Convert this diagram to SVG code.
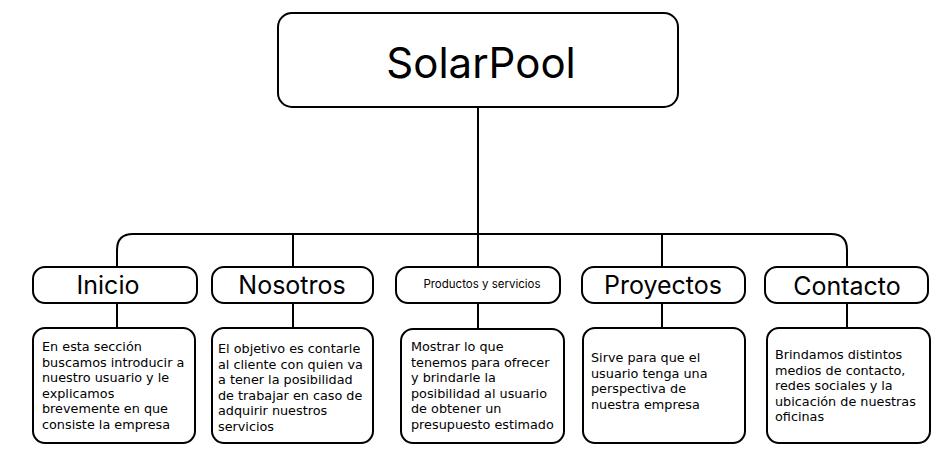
<svg xmlns="http://www.w3.org/2000/svg" width="952" height="463" viewBox="0 0 952 463">
<style>
.box{fill:#fff;stroke:#000;stroke-width:2}
.ln{fill:none;stroke:#000;stroke-width:2}
text{font-family:"Inter","Liberation Sans",sans-serif;fill:#000}
.t{font-size:25px;text-anchor:middle}
.d{font-family:"DejaVu Sans","Liberation Sans",sans-serif;font-size:12.8px}
</style>
<rect width="952" height="463" fill="#fff"/>
<g id="connectors">
<path class="ln" d="M478 107V234"/>
<path class="ln" d="M117 267V250Q117 234 133 234H831Q847 234 847 250V267"/>
<path class="ln" d="M293 234V267M478 234V267M662 234V267"/>
<path class="ln" d="M117 303V328M293 303V328M478 303V329M662 303V328M847 303V328"/>
</g>
<g id="solarpool">
<rect class="box" x="278" y="13" width="400" height="94" rx="14"/>
<text x="481" y="78" font-size="42" text-anchor="middle">SolarPool</text>
</g>
<g id="inicio">
<rect class="box" x="33" y="267" width="164" height="36" rx="12"/>
<text class="t" x="108" y="294">Inicio</text>
</g>
<g id="nosotros">
<rect class="box" x="212" y="267" width="161" height="36" rx="12"/>
<text class="t" x="292" y="294">Nosotros</text>
</g>
<g id="productos">
<rect class="box" x="396" y="267" width="164" height="36" rx="12"/>
<text x="482" y="288" font-size="11.5" text-anchor="middle">Productos y servicios</text>
</g>
<g id="proyectos">
<rect class="box" x="582" y="267" width="163" height="36" rx="12"/>
<text class="t" x="663" y="294">Proyectos</text>
</g>
<g id="contacto">
<rect class="box" x="765" y="267" width="163" height="36" rx="12"/>
<text class="t" x="847" y="295">Contacto</text>
</g>
<g id="inicio-desc">
<rect class="box" x="33" y="328" width="162" height="115" rx="12"/>
<text class="d" x="42" y="351"><tspan x="42">En esta sección</tspan><tspan x="42" dy="15.5">buscamos introducir a</tspan><tspan x="42" dy="15.5">nuestro usuario y le</tspan><tspan x="42" dy="15.5">explicamos</tspan><tspan x="42" dy="15.5">brevemente en que</tspan><tspan x="42" dy="15.5">consiste la empresa</tspan></text>
</g>
<g id="nosotros-desc">
<rect class="box" x="212" y="328" width="161" height="115" rx="12"/>
<text class="d" x="218" y="353"><tspan x="218">El objetivo es contarle</tspan><tspan x="218" dy="15.5">al cliente con quien va</tspan><tspan x="218" dy="15.5">a tener la posibilidad</tspan><tspan x="218" dy="15.5">de trabajar en caso de</tspan><tspan x="218" dy="15.5">adquirir nuestros</tspan><tspan x="218" dy="15.5">servicios</tspan></text>
</g>
<g id="productos-desc">
<rect class="box" x="401" y="329" width="163" height="114" rx="12"/>
<text class="d" x="411" y="351"><tspan x="411">Mostrar lo que</tspan><tspan x="411" dy="15.5">tenemos para ofrecer</tspan><tspan x="411" dy="15.5">y brindarle la</tspan><tspan x="411" dy="15.5">posibilidad al usuario</tspan><tspan x="411" dy="15.5">de obtener un</tspan><tspan x="411" dy="15.5">presupuesto estimado</tspan></text>
</g>
<g id="proyectos-desc">
<rect class="box" x="583" y="328" width="162" height="115" rx="12"/>
<text class="d" x="591" y="362"><tspan x="591">Sirve para que el</tspan><tspan x="591" dy="15.5">usuario tenga una</tspan><tspan x="591" dy="15.5">perspectiva de</tspan><tspan x="591" dy="15.5">nuestra empresa</tspan></text>
</g>
<g id="contacto-desc">
<rect class="box" x="767" y="328" width="163" height="115" rx="12"/>
<text class="d" x="775" y="359"><tspan x="775">Brindamos distintos</tspan><tspan x="775" dy="15.5">medios de contacto,</tspan><tspan x="775" dy="15.5">redes sociales y la</tspan><tspan x="775" dy="15.5">ubicación de nuestras</tspan><tspan x="775" dy="15.5">oficinas</tspan></text>
</g>
</svg>
